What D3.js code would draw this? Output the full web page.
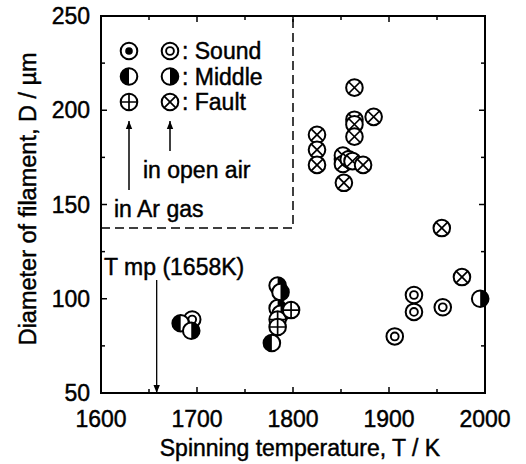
<!DOCTYPE html>
<html>
<head>
<meta charset="utf-8">
<script src="https://cdn.jsdelivr.net/npm/d3@7"></script>
<style>
  body { margin: 0; background: #fff; }
  text { font-family: "Liberation Sans", Arial, sans-serif; fill: #000; stroke: #000; stroke-width: 0.45px; }
</style>
</head>
<body>
<div id="chart"></div>
<script>
// values: [T (K), D (um)]
const arSound = [];
const airSound = [[1695, 89], [1926, 102], [1926, 93], [1956, 95.5], [1906, 80]];
const arMiddle = [[1683, 87], [1778, 76.5]];
const airMiddle = [[1694, 83], [1784, 107], [1787, 103.5], [1784, 95], [1787, 92], [1995, 100]];
const arFault = [[1784, 89], [1784, 85], [1798, 94], [1852, 174]];
const airFault = [
  [1864, 212], [1864, 195], [1864, 192.5], [1884, 196.5], [1864, 186],
  [1825, 187], [1825, 179], [1825, 171],
  [1852, 176], [1852, 171.5], [1858, 174], [1862, 173], [1873, 171], [1853, 161.5],
  [1955, 137.5], [1976, 111.5]
];
const xTicks = [1600, 1700, 1800, 1900, 2000];
const yTicks = [50, 100, 150, 200, 250];
const meltT = 1658;

const width = 526, height = 464;
const margin = { top: 16, right: 41, bottom: 71, left: 101 };
const innerW = width - margin.left - margin.right;
const innerH = height - margin.top - margin.bottom;

const svg = d3.select("#chart")
  .append("svg")
  .attr("width", width)
  .attr("height", height);

const g = svg.append("g")
  .attr("transform", `translate(${margin.left},${margin.top})`);

const x = d3.scaleLinear().domain([1600, 2000]).range([0, innerW]);
const y = d3.scaleLinear().domain([50, 250]).range([innerH, 0]);

// arrow head marker
svg.append("defs")
  .append("marker")
  .attr("id", "head")
  .attr("viewBox", "0 0 10 10")
  .attr("refX", 10)
  .attr("refY", 5)
  .attr("markerWidth", 8)
  .attr("markerHeight", 8)
  .attr("markerUnits", "userSpaceOnUse")
  .attr("orient", "auto")
  .append("path")
  .attr("d", "M0,1 L10,5 L0,9 Z")
  .attr("fill", "#000");

// inward ticks on all four sides
const xMinor = d3.range(1600, 2001, 50);
const yMinor = d3.range(50, 251, 25);
const tickLen = (v, step) => (v % step === 0 ? 6 : 4);

g.selectAll(".xt-b").data(xMinor).enter().append("line")
  .attr("x1", d => x(d)).attr("x2", d => x(d))
  .attr("y1", innerH).attr("y2", d => innerH - tickLen(d, 100))
  .attr("stroke", "#000").attr("stroke-width", 1.5);
g.selectAll(".xt-t").data(xMinor).enter().append("line")
  .attr("x1", d => x(d)).attr("x2", d => x(d))
  .attr("y1", 0).attr("y2", d => tickLen(d, 100))
  .attr("stroke", "#000").attr("stroke-width", 1.5);
g.selectAll(".yt-l").data(yMinor).enter().append("line")
  .attr("x1", 0).attr("x2", d => tickLen(d, 50))
  .attr("y1", d => y(d)).attr("y2", d => y(d))
  .attr("stroke", "#000").attr("stroke-width", 1.5);
g.selectAll(".yt-r").data(yMinor).enter().append("line")
  .attr("x1", innerW).attr("x2", d => innerW - tickLen(d, 50))
  .attr("y1", d => y(d)).attr("y2", d => y(d))
  .attr("stroke", "#000").attr("stroke-width", 1.5);

// tick labels
g.selectAll(".xl").data(xTicks).enter().append("text")
  .attr("x", d => x(d)).attr("y", innerH + 34)
  .attr("text-anchor", "middle")
  .style("font-size", "23px")
  .text(d => d);
g.selectAll(".yl").data(yTicks).enter().append("text")
  .attr("x", -11).attr("y", d => y(d) + 8)
  .attr("text-anchor", "end")
  .style("font-size", "23px")
  .text(d => d);

// axis titles
g.append("text")
  .attr("x", 199).attr("y", innerH + 63)
  .attr("text-anchor", "middle")
  .style("font-size", "23px")
  .text("Spinning temperature, T / K");
g.append("text")
  .attr("transform", `translate(-65,${y(153)}) rotate(-90)`)
  .attr("text-anchor", "middle")
  .style("font-size", "23.5px")
  .text("Diameter of filament, D / \u00b5m");

// melting point arrow
g.append("line")
  .attr("x1", x(meltT)).attr("x2", x(meltT))
  .attr("y1", y(110)).attr("y2", innerH)
  .attr("stroke", "#000").attr("stroke-width", 1.3)
  .attr("marker-end", "url(#head)");
const mp = g.append("text")
  .attr("x", 3).attr("y", y(117) + 8)
  .style("font-size", "23px");
mp.append("tspan").text("T");
mp.append("tspan").attr("dx", 6).text("mp (1658K)");

// dashed legend box
g.append("path")
  .attr("d", `M0,${y(137.5)} H${x(1800)} V0`)
  .attr("fill", "none")
  .attr("stroke", "#000")
  .attr("stroke-width", 1.5)
  .attr("stroke-dasharray", "9,5");

// marker drawing
const R = 8.3;
function drawSymbol(sel, kind) {
  sel.append("circle").attr("r", R).attr("fill", "#fff");
  if (kind === "arMiddle" || kind === "airMiddle") {
    const left = kind === "arMiddle";
    sel.append("path")
      .attr("d", left
        ? `M0,${-R} A${R},${R} 0 0 0 0,${R} Z`
        : `M0,${-R} A${R},${R} 0 0 1 0,${R} Z`)
      .attr("fill", "#000");
  }
  sel.append("circle").attr("r", R)
    .attr("fill", "none").attr("stroke", "#000").attr("stroke-width", 2);
  if (kind === "arSound") {
    sel.append("circle").attr("r", 3.8).attr("fill", "#000");
  } else if (kind === "airSound") {
    sel.append("circle").attr("r", 3.9)
      .attr("fill", "none").attr("stroke", "#000").attr("stroke-width", 1.9);
  } else if (kind === "arFault") {
    sel.append("path").attr("d", `M${-R},0 H${R} M0,${-R} V${R}`)
      .attr("stroke", "#000").attr("stroke-width", 1.7);
  } else if (kind === "airFault") {
    const k = R * 0.7071;
    sel.append("path").attr("d", `M${-k},${-k} L${k},${k} M${-k},${k} L${k},${-k}`)
      .attr("stroke", "#000").attr("stroke-width", 1.7);
  }
}

const series = [
  { kind: "arSound", data: arSound },
  { kind: "airSound", data: airSound },
  { kind: "arMiddle", data: arMiddle },
  { kind: "airMiddle", data: airMiddle },
  { kind: "arFault", data: arFault },
  { kind: "airFault", data: airFault }
];

series.forEach(s => {
  g.selectAll(null).data(s.data).enter().append("g")
    .attr("transform", d => `translate(${x(d[0])},${y(d[1])})`)
    .each(function () { drawSymbol(d3.select(this), s.kind); });
});

// legend
const legendRows = [
  { ar: "arSound", air: "airSound", label: ": Sound" },
  { ar: "arMiddle", air: "airMiddle", label: ": Middle" },
  { ar: "arFault", air: "airFault", label: ": Fault" }
];
const lg = svg.append("g");
legendRows.forEach((r, i) => {
  const yy = 51 + i * 25.5;
  drawSymbol(lg.append("g").attr("transform", `translate(129,${yy})`), r.ar);
  drawSymbol(lg.append("g").attr("transform", `translate(170,${yy})`), r.air);
  lg.append("text").attr("x", 182).attr("y", yy + 8)
    .style("font-size", "23px").text(r.label);
});
lg.append("line").attr("x1", 129).attr("x2", 129).attr("y1", 190).attr("y2", 121)
  .attr("stroke", "#000").attr("stroke-width", 1.5).attr("marker-end", "url(#head)");
lg.append("line").attr("x1", 170).attr("x2", 170).attr("y1", 151).attr("y2", 121)
  .attr("stroke", "#000").attr("stroke-width", 1.5).attr("marker-end", "url(#head)");
lg.append("text").attr("x", 143).attr("y", 178)
  .style("font-size", "23px").text("in open air");
lg.append("text").attr("x", 114).attr("y", 217)
  .style("font-size", "23px").text("in Ar gas");

// frame
g.append("rect")
  .attr("width", innerW).attr("height", innerH)
  .attr("fill", "none").attr("stroke", "#000").attr("stroke-width", 2);
</script>
</body>
</html>
